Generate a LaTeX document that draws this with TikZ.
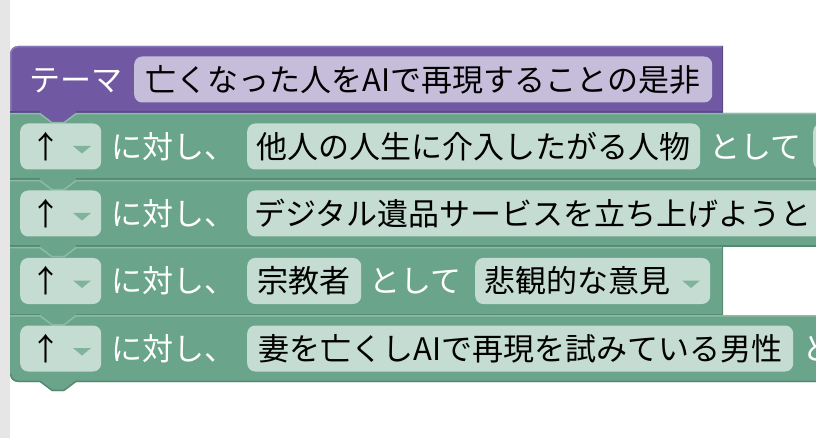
\documentclass[tikz,border=0pt]{standalone}
\usepackage{fontspec}
\setmainfont{Noto Sans CJK JP}
\definecolor{purp}{HTML}{7059A2}
\definecolor{purpdark}{HTML}{5A4889}
\definecolor{purplight}{HTML}{8878B5}
\definecolor{lav}{HTML}{C6BDDB}
\definecolor{grn}{HTML}{6AA48B}
\definecolor{grndark}{HTML}{558A72}
\definecolor{grnlight}{HTML}{8CBBA6}
\definecolor{fld}{HTML}{C5DCD2}
\definecolor{tri}{HTML}{80B39B}
\definecolor{strip}{HTML}{E6E6E6}
\newcommand\blkfont{\fontsize{31}{36}\selectfont}
\tikzset{
  fieldbox/.style={fill=fld, rounded corners=8pt, minimum height=46pt, inner sep=0pt,
    anchor=west, font=\blkfont, text=black, text height=27.3pt, text depth=3.7pt},
  lbl/.style={anchor=west, inner sep=0pt, text height=27.3pt, text depth=3.7pt,
    font=\blkfont, text=white},
  arr/.style={inner sep=0pt, font=\blkfont, text=black, text height=27.3pt, text depth=3.7pt},
  hi/.style={grnlight, line width=1.5pt},
  lo/.style={grndark, line width=1.5pt}
}
\begin{document}
\begin{tikzpicture}[x=1pt,y=-1pt]
\useasboundingbox (0,0) rectangle (816,438);
\clip (0,0) rectangle (816,438);
\fill[white] (0,0) rectangle (816,438);
\fill[strip] (0,0) rectangle (10,438);

% block fills, bottom to top
\fill[grn] (10,315) -- (830,315) -- (830,382) -- (76,382) -- (64,391) -- (52,391) -- (40,382)
  -- (18,382) .. controls (13.6,382) and (10,378.4) .. (10,374) -- cycle;
\fill[grn] (10,247) -- (723,247) -- (723,315) -- (76,315) -- (64,324) -- (52,324) -- (40,315) -- (10,315) -- cycle;
\fill[grn] (10,180) -- (830,180) -- (830,247) -- (76,247) -- (64,256) -- (52,256) -- (40,247) -- (10,247) -- cycle;
\fill[grn] (10,113) -- (830,113) -- (830,180) -- (76,180) -- (64,189) -- (52,189) -- (40,180) -- (10,180) -- cycle;
\fill[purp] (10,113) -- (10,54) .. controls (10,49.6) and (13.6,46) .. (18,46) -- (723,46) -- (723,113)
  -- (76,113) -- (64,122) -- (52,122) -- (40,113) -- cycle;

% purple edges
\draw[purplight, line width=1.5pt] (10.75,113) -- (10.75,54) .. controls (10.75,50) and (14,46.75) .. (18,46.75) -- (722,46.75);
\draw[purpdark, line width=1.5pt] (722.25,46) -- (722.25,113);
\draw[purpdark, line width=1.5pt] (10,112.25) -- (40,112.25) (76,112.25) -- (723,112.25);

% row boundaries
\draw[hi] (10,113.75) -- (40,113.75) -- (52,122.75) -- (64,122.75) -- (76,113.75) -- (830,113.75);
\draw[lo] (10,179.25) -- (40,179.25) (76,179.25) -- (830,179.25);
\draw[hi] (10,180.75) -- (40,180.75) -- (52,189.75) -- (64,189.75) -- (76,180.75) -- (830,180.75);
\draw[lo] (10,246.25) -- (40,246.25) (76,246.25) -- (830,246.25);
\draw[hi] (10,247.75) -- (40,247.75) -- (52,256.75) -- (64,256.75) -- (76,247.75) -- (723,247.75);
\draw[lo] (722.25,247) -- (722.25,315);
\draw[lo] (10,314.25) -- (40,314.25) (76,314.25) -- (723,314.25);
\draw[hi] (10,315.75) -- (40,315.75) -- (52,324.75) -- (64,324.75) -- (76,315.75) -- (830,315.75);
\draw[lo] (10.75,374) .. controls (10.75,378) and (14,381.25) .. (18,381.25) -- (40,381.25) -- (52,390.25)
  -- (64,390.25) -- (76,381.25) -- (830,381.25);

% theme row
\node[lbl] (theme) at (29,79.5) {テーマ};
\node[fieldbox, fill=lav, minimum width=578pt] (topic) at (134,79.5) {亡くなった人をAIで再現することの是非};

% row 1
\node[fieldbox, minimum width=81pt] (dd1) at (20,146.5) {};
\node[arr] (a1) at (45.5,146.5) {↑};
\fill[tri] (73,146) -- (91,146) -- (82,153.5) -- cycle;
\node[lbl] (t1) at (111,146.5) {に対し、};
\node[fieldbox, minimum width=453pt] (p1) at (247,146.5) {他人の人生に介入したがる人物};
\node[lbl] (as1) at (709,146.5) {として};
\node[fieldbox, minimum width=100pt] (o1) at (813,146.5) {};

% row 2
\node[fieldbox, minimum width=81pt] (dd2) at (20,213.5) {};
\node[arr] (a2) at (45.5,213.5) {↑};
\fill[tri] (73,213) -- (91,213) -- (82,220.5) -- cycle;
\node[lbl] (t2) at (111,213.5) {に対し、};
\node[fieldbox, minimum width=620pt] (p2) at (247,213.5) {};
\node[lbl, text=black] (p2t) at (254,213.5) {デジタル遺品サービスを立ち上げようとし};

% row 3
\node[fieldbox, minimum width=81pt] (dd3) at (20,281) {};
\node[arr] (a3) at (45.5,281) {↑};
\fill[tri] (73,280.5) -- (91,280.5) -- (82,288) -- cycle;
\node[lbl] (t3) at (111,281) {に対し、};
\node[fieldbox, minimum width=114pt] (p3) at (247,281) {宗教者};
\node[lbl] (as3) at (369,281) {として};
\node[fieldbox, minimum width=235pt] (o3) at (475,281) {};
\node[lbl, text=black] (o3t) at (484,281) {悲観的な意見};
\fill[tri] (682,280.5) -- (700,280.5) -- (691,288) -- cycle;

% row 4
\node[fieldbox, minimum width=81pt] (dd4) at (20,348.5) {};
\node[arr] (a4) at (45.5,348.5) {↑};
\fill[tri] (73,348) -- (91,348) -- (82,355.5) -- cycle;
\node[lbl] (t4) at (111,348.5) {に対し、};
\node[fieldbox, minimum width=546pt] (p4) at (247,348.5) {妻を亡くしAIで再現を試みている男性};
\node[lbl] (as4) at (802,348.5) {として};
\end{tikzpicture}
\end{document}
